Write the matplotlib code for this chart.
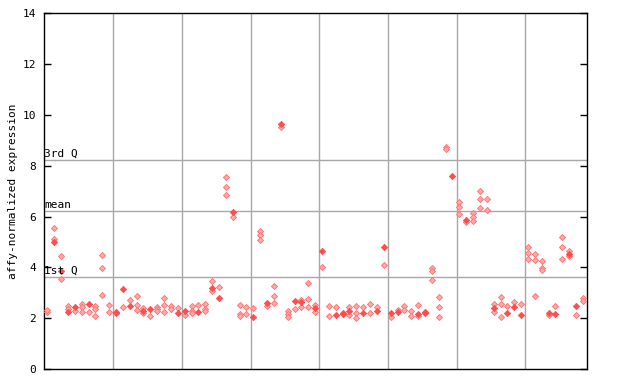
import matplotlib
matplotlib.use("Agg")
import matplotlib.pyplot as plt
import matplotlib.transforms as mtransforms

# ---- data (sample index -> expression values) ----
hollow_values = [
    [2.25, 2.32], [5.54, 5.10], [4.45, 3.53], [2.48, 2.36], [2.28],
    [2.55, 2.45, 2.24], [2.24], [2.47, 2.36, 2.09], [4.47, 3.96, 2.91], [2.51, 2.24],
    [], [2.43], [2.72], [2.86, 2.52, 2.32], [2.39, 2.22],
    [2.10], [2.45, 2.36, 2.28], [2.78, 2.52, 2.26], [2.49, 2.37], [2.39],
    [2.12], [2.48, 2.30, 2.22], [2.52], [2.57, 2.35, 2.27], [3.46, 3.06],
    [3.23], [7.54, 7.15, 6.85], [5.97], [2.51, 2.17, 2.10], [2.43, 2.17],
    [2.39], [5.44, 5.27, 5.08], [2.47], [3.27, 2.87, 2.60], [9.52],
    [2.29, 2.16, 2.03], [2.35], [2.72, 2.43], [3.37, 2.74, 2.43], [2.52, 2.23],
    [4.00], [2.47, 2.07], [2.43], [], [2.43, 2.12],
    [2.47, 2.19, 2.02], [2.43], [2.55, 2.19], [2.43], [4.08],
    [2.03], [2.33], [2.47, 2.31], [2.28, 2.09], [2.51, 2.07],
    [], [3.96, 3.85, 3.50], [2.83, 2.43, 2.03], [8.75, 8.65], [],
    [6.57, 6.37, 6.10], [5.77], [6.13, 5.97, 5.83], [7.01, 6.70, 6.34], [6.68, 6.25],
    [2.55, 2.26], [2.82, 2.56, 2.03], [2.47], [2.63], [2.55],
    [4.79, 4.55, 4.31], [4.51, 4.28, 2.86], [4.24, 3.98, 3.89], [2.11], [2.47],
    [5.18, 4.79, 4.31], [4.63, 4.43], [2.11], [2.81, 2.69],
]
filled_values = [
    [], [5.01], [3.87], [2.23], [2.45],
    [], [2.57], [], [], [],
    [2.25, 2.20], [3.16], [2.47], [], [2.27],
    [2.36], [], [], [], [2.22],
    [2.28], [], [2.23], [], [3.18],
    [2.81], [], [6.19], [], [],
    [2.06], [], [2.60], [], [9.64],
    [], [2.69], [2.64], [], [2.41],
    [4.66], [], [2.14], [2.22, 2.18], [2.27],
    [], [2.19], [], [2.27], [4.82],
    [2.22], [2.24], [], [], [2.18],
    [2.24, 2.20], [], [], [], [7.61],
    [], [5.87], [], [], [],
    [2.40], [], [2.22], [2.45], [2.14],
    [], [], [], [2.22], [2.18],
    [], [4.53], [2.49], [],
]
quartile_labels = ["1st Q", "mean", "3rd Q"]
quartile_values = [3.62, 6.22, 8.23]
y_ticks = [0, 2, 4, 6, 8, 10, 12, 14]
group_bounds = [9.6, 19.6, 29.6, 39.6, 49.6, 59.6, 69.6]

mono = "DejaVu Sans Mono"
fs = 8
fig = plt.figure(figsize=(6.4, 3.84), dpi=100)
ax = fig.add_axes([44.3 / 640, 1 - 369 / 384, (587.3 - 44.3) / 640, (369 - 13.3) / 384])

grid_c = "#a8a8a8"
for gx in group_bounds:
    ax.axvline(gx, color=grid_c, lw=1.0, zorder=1)
for qv in quartile_values:
    ax.axhline(qv, color=grid_c, lw=1.0, zorder=1)

hx, hy, fx, fy = [], [], [], []
for i, vals in enumerate(hollow_values):
    for v in vals:
        hx.append(i); hy.append(v)
for i, vals in enumerate(filled_values):
    for v in vals:
        fx.append(i); fy.append(v)

ax.plot(hx, hy, linestyle="none", marker="D", markersize=3.1,
        markerfacecolor="#ffa8a8", markeredgecolor="#ff7070", markeredgewidth=0.6, zorder=3)
ax.plot(fx, fy, linestyle="none", marker="D", markersize=3.3,
        markerfacecolor="#ff4d4d", markeredgecolor="#ff4d4d", markeredgewidth=0.5, zorder=4)

trans = mtransforms.blended_transform_factory(ax.transAxes, ax.transData)
for lab, qv in zip(quartile_labels, quartile_values):
    ax.text(0.0, qv + 0.04, lab, transform=trans, ha="left", va="bottom",
            fontsize=fs, family=mono, color="black", zorder=5)

ax.set_xlim(-0.44, 78.64)
ax.set_ylim(0, 14)
ax.set_yticks(y_ticks)
ax.set_yticklabels([str(t) for t in y_ticks], fontsize=fs, family=mono)
ax.set_xticks([])
ax.tick_params(axis="y", direction="in", length=5, width=1, pad=6,
               left=True, right=True, labelleft=True, labelright=False)
for sp in ax.spines.values():
    sp.set_color("black")
    sp.set_linewidth(1.0)
ax.set_ylabel("affy-normalized expression", fontsize=fs, family=mono, labelpad=3)

fig.savefig("out.png", dpi=100)
